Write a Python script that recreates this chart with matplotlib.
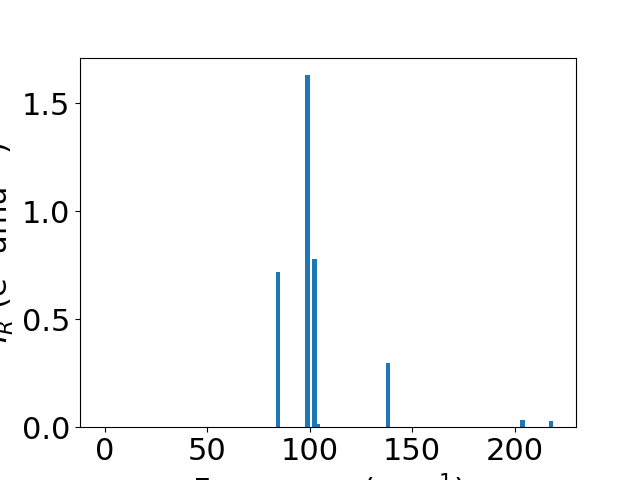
import matplotlib
matplotlib.use("Agg")
import matplotlib.pyplot as plt

# IR spectrum - stick bars
freqs = [0, 84.4, 99.0, 102.4, 104.0, 138.3, 203.9, 218.0]
intensities = [0.0, 0.718, 1.63, 0.778, 0.015, 0.296, 0.032, 0.028]

plt.rcParams['font.size'] = 22

fig, ax = plt.subplots(figsize=(6.4, 4.8), dpi=100)

ax.bar(freqs, intensities, width=2)

ax.set_xlabel("Frequency (cm$^{-1}$)")
ax.set_ylabel("$I_R$ (e$^2$ amu$^{-1}$)")

fig.savefig("out.png")
